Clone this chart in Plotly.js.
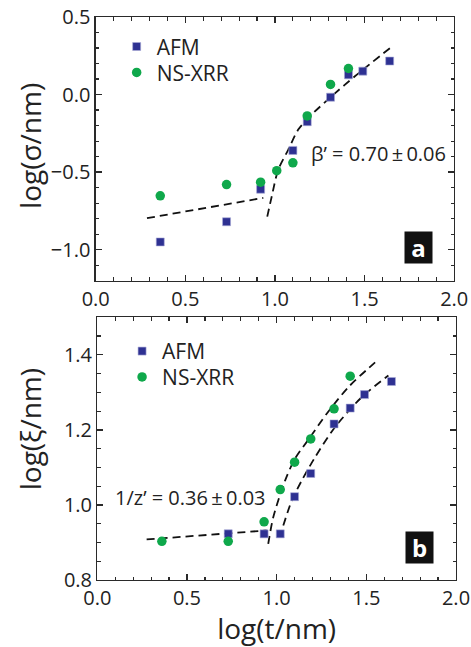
<!DOCTYPE html>
<html>
<head>
<meta charset="utf-8">
<script src="https://cdn.plot.ly/plotly-3.0.1.min.js"></script>
<style>html,body{margin:0;padding:0;background:#fff;}#chart{width:471px;height:647px;}</style>
</head>
<body>
<div id="chart"></div>
<script>
// ---- Panel a: log(sigma/nm) vs log(t/nm)
const afmA_x = [0.36, 0.73, 0.92, 1.10, 1.18, 1.31, 1.41, 1.49, 1.64];
const afmA_y = [-0.95, -0.82, -0.61, -0.36, -0.175, -0.017, 0.127, 0.151, 0.216];
const xrrA_x = [0.36, 0.73, 0.92, 1.01, 1.10, 1.18, 1.31, 1.41];
const xrrA_y = [-0.653, -0.580, -0.565, -0.491, -0.440, -0.138, 0.065, 0.168];
const fitA_low_x = [0.286, 0.935];
const fitA_low_y = [-0.797, -0.666];
const fitA_high_x = [0.957, 0.982, 1.018, 1.074, 1.130, 1.195, 1.316, 1.446, 1.651];
const fitA_high_y = [-0.787, -0.657, -0.485, -0.356, -0.226, -0.140, -0.011, 0.118, 0.308];

// ---- Panel b: log(xi/nm) vs log(t/nm)
const afmB_x = [0.73, 0.93, 1.02, 1.10, 1.19, 1.32, 1.41, 1.49, 1.64];
const afmB_y = [0.923, 0.923, 0.923, 1.022, 1.084, 1.216, 1.258, 1.294, 1.329];
const xrrB_x = [0.36, 0.73, 0.93, 1.02, 1.10, 1.19, 1.32, 1.41];
const xrrB_y = [0.903, 0.903, 0.955, 1.041, 1.114, 1.176, 1.256, 1.343];
const fitB_low_x = [0.275, 0.944];
const fitB_low_y = [0.908, 0.932];
const fitB_xrr_x = [0.953, 0.981, 1.047, 1.102, 1.186, 1.279, 1.400, 1.549];
const fitB_xrr_y = [0.896, 0.967, 1.065, 1.123, 1.180, 1.243, 1.314, 1.380];
const fitB_afm_x = [1.037, 1.084, 1.140, 1.214, 1.325, 1.474, 1.623];
const fitB_afm_y = [0.945, 1.011, 1.065, 1.127, 1.207, 1.287, 1.345];

const seriesNames = ['AFM', 'NS-XRR'];
const labelA = 'β’ = 0.70\u2009±\u20090.06';
const labelB = '1/z’ = 0.36\u2009±\u20090.03';
const titleYA = 'log(σ/nm)';
const titleYB = 'log(ξ/nm)';
const titleX = 'log(t/nm)';

const BLUE = '#2e3192';
const GREEN = '#0fa84b';
const FONT = 'Open Sans, Liberation Sans, sans-serif';
const INK = '#222';

function fit(x, y, xa, ya, spline) {
  return {x: x, y: y, xaxis: xa, yaxis: ya, mode: 'lines', type: 'scatter', showlegend: false,
    hoverinfo: 'skip',
    line: {color: '#111', width: 1.8, dash: '8px,5px', shape: spline ? 'spline' : 'linear', smoothing: 0.8}};
}
function pts(x, y, xa, ya, name, sym, color, size, leg) {
  return {x: x, y: y, xaxis: xa, yaxis: ya, mode: 'markers', type: 'scatter', name: name,
    legend: leg,
    marker: {symbol: sym, color: color, size: size,
      line: {color: sym === 'square' ? '#a9abd6' : color, width: sym === 'square' ? 0.6 : 0}}};
}

const data = [
  fit(fitA_low_x, fitA_low_y, 'x', 'y', false),
  fit(fitA_high_x, fitA_high_y, 'x', 'y', true),
  pts(afmA_x, afmA_y, 'x', 'y', seriesNames[0], 'square', BLUE, 8, 'legend'),
  pts(xrrA_x, xrrA_y, 'x', 'y', seriesNames[1], 'circle', GREEN, 9.5, 'legend3'),
  fit(fitB_low_x, fitB_low_y, 'x2', 'y2', false),
  fit(fitB_xrr_x, fitB_xrr_y, 'x2', 'y2', true),
  fit(fitB_afm_x, fitB_afm_y, 'x2', 'y2', true),
  pts(afmB_x, afmB_y, 'x2', 'y2', seriesNames[0], 'square', BLUE, 8, 'legend2'),
  pts(xrrB_x, xrrB_y, 'x2', 'y2', seriesNames[1], 'circle', GREEN, 9.5, 'legend4')
];

const axisCommon = {
  showline: true, linecolor: '#2a2a2a', linewidth: 1.3, mirror: 'ticks',
  ticks: 'inside', ticklen: 6, tickwidth: 1.3, tickcolor: '#2a2a2a',
  showgrid: false, zeroline: false,
  tickfont: {family: FONT, size: 20, color: INK}
};
const minorCommon = {ticks: 'inside', ticklen: 3.5, tickcolor: '#2a2a2a', tickwidth: 1.2};

const legendCommon = {xanchor: 'left', yanchor: 'middle', bgcolor: 'rgba(0,0,0,0)',
  font: {family: FONT, size: 21, color: INK}, itemwidth: 30};

function vtitle(text, xa, ya, yfrac, xshift) {
  return {text: text, xref: xa + ' domain', yref: ya + ' domain', x: 0, y: yfrac, xanchor: 'center', yanchor: 'middle',
    xshift: xshift, textangle: -90, showarrow: false, font: {family: FONT, size: 28, color: INK}};
}

const layout = {
  width: 471, height: 647,
  margin: {l: 95, r: 15, t: 17, b: 67},
  paper_bgcolor: '#fff', plot_bgcolor: '#fff',
  font: {family: FONT, color: INK},
  showlegend: true,
  xaxis: Object.assign({}, axisCommon, {
    domain: [0.002, 0.995], anchor: 'y', range: [0, 2], dtick: 0.5, tick0: 0,
    tickformat: '.1f', minor: Object.assign({dtick: 0.1}, minorCommon)
  }),
  yaxis: Object.assign({}, axisCommon, {
    domain: [0.5316, 1.0], anchor: 'x', range: [-1.2, 0.5], dtick: 0.5, tick0: 0,
    tickformat: '.1f', minor: Object.assign({dtick: 0.1}, minorCommon)
  }),
  xaxis2: Object.assign({}, axisCommon, {
    domain: [0.0064, 1.0], anchor: 'y2', range: [0, 2], dtick: 0.5, tick0: 0,
    tickformat: '.1f', minor: Object.assign({dtick: 0.1}, minorCommon),
    title: {text: titleX, font: {family: FONT, size: 28, color: INK}, standoff: 8}
  }),
  yaxis2: Object.assign({}, axisCommon, {
    domain: [0, 0.4666], anchor: 'x2', range: [0.8, 1.5], dtick: 0.2, tick0: 0,
    tickformat: '.1f', minor: Object.assign({dtick: 0.05}, minorCommon)
  }),
  legend: Object.assign({x: 0.06, y: 0.947}, legendCommon),
  legend3: Object.assign({x: 0.06, y: 0.901}, legendCommon),
  legend2: Object.assign({x: 0.075, y: 0.406}, legendCommon),
  legend4: Object.assign({x: 0.075, y: 0.360}, legendCommon),
  annotations: [
    vtitle(titleYA, 'x', 'y', 0.51, -66),
    vtitle(titleYB, 'x2', 'y2', 0.575, -67),
    {text: labelA, xref: 'x domain', yref: 'y domain', x: 0.595, y: 0.481, xanchor: 'left', yanchor: 'middle',
      showarrow: false, font: {family: FONT, size: 20, color: INK}},
    {text: labelB, xref: 'x2 domain', yref: 'y2 domain', x: 0.0446, y: 0.315, xanchor: 'left', yanchor: 'middle',
      showarrow: false, font: {family: FONT, size: 20, color: INK}},
    {text: '<b>a</b>', xref: 'x domain', yref: 'y domain', x: 0.9016, y: 0.127, xanchor: 'center', yanchor: 'middle',
      showarrow: false, bgcolor: '#111', width: 25, height: 29, borderpad: 1,
      font: {family: FONT, size: 24, color: '#fff'}},
    {text: '<b>b</b>', xref: 'x2 domain', yref: 'y2 domain', x: 0.897, y: 0.125, xanchor: 'center', yanchor: 'middle',
      showarrow: false, bgcolor: '#111', width: 25, height: 29, borderpad: 1,
      font: {family: FONT, size: 24, color: '#fff'}}
  ]
};

Plotly.newPlot('chart', data, layout, {staticPlot: true, displayModeBar: false});
</script>
</body>
</html>
